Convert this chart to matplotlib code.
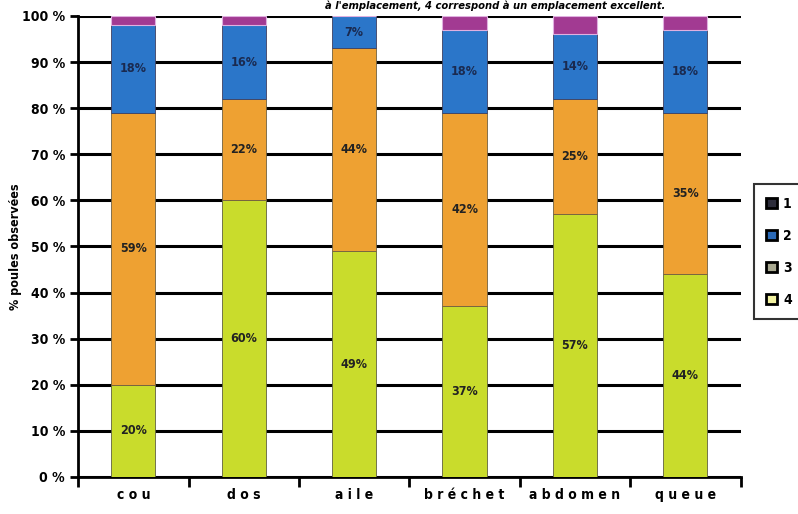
import numpy as np
import matplotlib.pyplot as plt
from matplotlib.patches import Patch

categories = ["cou", "dos", "aile", "bréchet", "abdomen", "queue"]
note4 = [20, 60, 49, 37, 57, 44]
note3 = [59, 22, 44, 42, 25, 35]
note2 = [19, 16, 7, 18, 14, 18]
note1 = [2, 2, 0, 3, 4, 3]
labels2 = ["18%", "16%", "7%", "18%", "14%", "18%"]
legend_names = ["1", "2", "3", "4"]

plt.rcParams['font.family'] = ['DejaVu Sans']
plt.rcParams['font.stretch'] = 'condensed'

fig = plt.figure(figsize=(7.98, 5.14), dpi=100)
ax = fig.add_axes([0.098, 0.072, 0.83, 0.897])

x = np.arange(len(categories))
w = 0.4
c4, c3, c2, c1 = "#c9dc2c", "#eea132", "#2b76c9", "#a23a92"

b4 = np.array(note4)
b3 = b4 + np.array(note3)
b2 = b3 + np.array(note2)

ax.bar(x, note4, w, color=c4, edgecolor="#606040", linewidth=0.6, zorder=3)
ax.bar(x, note3, w, bottom=b4, color=c3, edgecolor="#706040", linewidth=0.6, zorder=3)
ax.bar(x, note2, w, bottom=b3, color=c2, edgecolor="#404060", linewidth=0.6, zorder=3)
ax.bar(x, note1, w, bottom=b2, color=c1, edgecolor="#e0b0e0", linewidth=0.8, zorder=3)

for i in range(len(categories)):
    ax.text(x[i], note4[i] / 2, f"{note4[i]}%", ha="center", va="center",
            fontsize=9, fontweight="bold", color="#222222", zorder=4)
    ax.text(x[i], b4[i] + note3[i] / 2, f"{note3[i]}%", ha="center", va="center",
            fontsize=9, fontweight="bold", color="#222222", zorder=4)
    ax.text(x[i], b3[i] + note2[i] / 2, labels2[i], ha="center", va="center",
            fontsize=9, fontweight="bold", color="#1a2a50", zorder=4)

ax.set_xlim(-0.5, len(categories) - 0.5)
ax.set_ylim(0, 100)
ax.set_yticks(range(0, 101, 10))
ax.set_yticklabels([f"{v} %" for v in range(0, 101, 10)], fontsize=10, fontweight="bold")
ax.yaxis.grid(True, color="black", linewidth=2.2, zorder=1)
ax.tick_params(axis="y", length=6, width=2, direction="out")

ax.set_xticks(x)
ax.set_xticklabels([" ".join(c) for c in categories], fontsize=10, fontweight="bold")
ax.set_xticks(np.arange(-0.5, len(categories)), minor=True)
ax.tick_params(axis="x", which="major", length=0, pad=8)
ax.tick_params(axis="x", which="minor", length=7, width=2, direction="out")

for s in ["top", "right"]:
    ax.spines[s].set_visible(False)
ax.spines["left"].set_linewidth(2)
ax.spines["bottom"].set_linewidth(2)

ax.set_ylabel("% poules observées", fontsize=9, fontweight="bold")
ax.yaxis.set_label_coords(-0.085, 0.5)

fig.text(0.62, 0.999, "à l'emplacement, 4 correspond à un emplacement excellent.",
         ha="center", va="top", fontsize=8, fontstyle="italic", fontweight="bold")

leg_colors = ["#2c2c3a", "#2b6ab8", "#a8a890", "#f2f2a0"]
handles = [Patch(facecolor=c, edgecolor="black", linewidth=2) for c in leg_colors]
leg = fig.legend(handles, legend_names, loc="center left",
                 bbox_to_anchor=(0.936, 0.51), frameon=True, fancybox=False,
                 edgecolor="black", handlelength=0.8, handleheight=0.8,
                 handletextpad=0.4, labelspacing=1.3, borderpad=0.9,
                 prop={"size": 10, "weight": "bold"})
leg.get_frame().set_linewidth(1.5)

fig.savefig("out.png", dpi=100)
